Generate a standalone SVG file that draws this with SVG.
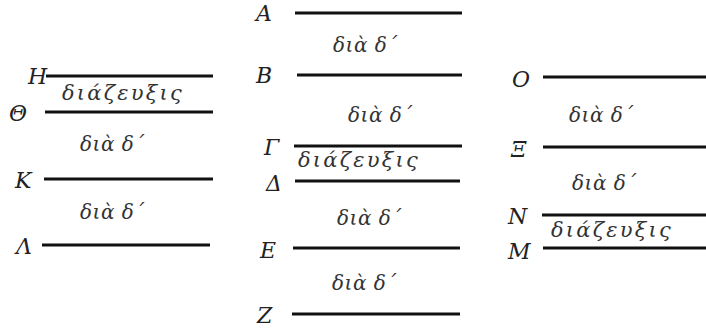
<svg xmlns="http://www.w3.org/2000/svg" width="706" height="329" viewBox="0 0 706 329">
<style>
.bg{fill:#fff}
.ln{stroke:#111;stroke-width:3;stroke-linecap:butt}
.lb{font-family:"DejaVu Serif",serif;font-style:italic;font-size:22px;fill:#222}
.iv{font-family:"DejaVu Serif",serif;font-style:italic;font-size:20px;fill:#333;letter-spacing:0.5px}
.dz{font-size:21px;letter-spacing:2.2px}
</style>
<rect class="bg" width="706" height="329"/>
<g id="H"><text class="lb" x="28" y="84">H</text><line class="ln" x1="46" y1="76" x2="213" y2="76"/></g>
<g id="Theta"><text class="lb" x="9" y="121">Θ</text><line class="ln" x1="45" y1="112" x2="213" y2="112"/></g>
<g id="K"><text class="lb" x="15" y="188">K</text><line class="ln" x1="44" y1="179" x2="213" y2="179"/></g>
<g id="Lambda"><text class="lb" x="16" y="254">Λ</text><line class="ln" x1="42" y1="245" x2="210" y2="245"/></g>
<g id="A"><text class="lb" x="256" y="21">A</text><line class="ln" x1="295" y1="13" x2="462" y2="13"/></g>
<g id="B"><text class="lb" x="256" y="83">B</text><line class="ln" x1="297" y1="75" x2="462" y2="75"/></g>
<g id="Gamma"><text class="lb" x="264" y="155">Γ</text><line class="ln" x1="294" y1="146" x2="462" y2="146"/></g>
<g id="Delta"><text class="lb" x="266" y="191">Δ</text><line class="ln" x1="295" y1="181" x2="460" y2="181"/></g>
<g id="E"><text class="lb" x="260" y="258">E</text><line class="ln" x1="293" y1="248" x2="460" y2="248"/></g>
<g id="Z"><text class="lb" x="257" y="323">Z</text><line class="ln" x1="292" y1="314" x2="460" y2="314"/></g>
<g id="O"><text class="lb" x="512" y="87">O</text><line class="ln" x1="543" y1="77" x2="706" y2="77"/></g>
<g id="Xi"><text class="lb" x="511" y="157">Ξ</text><line class="ln" x1="543" y1="147" x2="706" y2="147"/></g>
<g id="N"><text class="lb" x="508" y="224">N</text><line class="ln" x1="542" y1="215" x2="706" y2="215"/></g>
<g id="M"><text class="lb" x="508" y="259">M</text><line class="ln" x1="543" y1="248" x2="706" y2="248"/></g>
<g id="intervals">
<text class="iv dz" x="62" y="100">διάζευξις</text>
<text class="iv" x="80" y="151">διὰ δ΄</text>
<text class="iv" x="80" y="219">διὰ δ΄</text>
<text class="iv" x="333" y="52">διὰ δ΄</text>
<text class="iv" x="348" y="122">διὰ δ΄</text>
<text class="iv dz" x="298" y="167">διάζευξις</text>
<text class="iv" x="337" y="225">διὰ δ΄</text>
<text class="iv" x="332" y="290">διὰ δ΄</text>
<text class="iv" x="569" y="122">διὰ δ΄</text>
<text class="iv" x="572" y="190">διὰ δ΄</text>
<text class="iv dz" x="551" y="237">διάζευξις</text>
</g>
</svg>
